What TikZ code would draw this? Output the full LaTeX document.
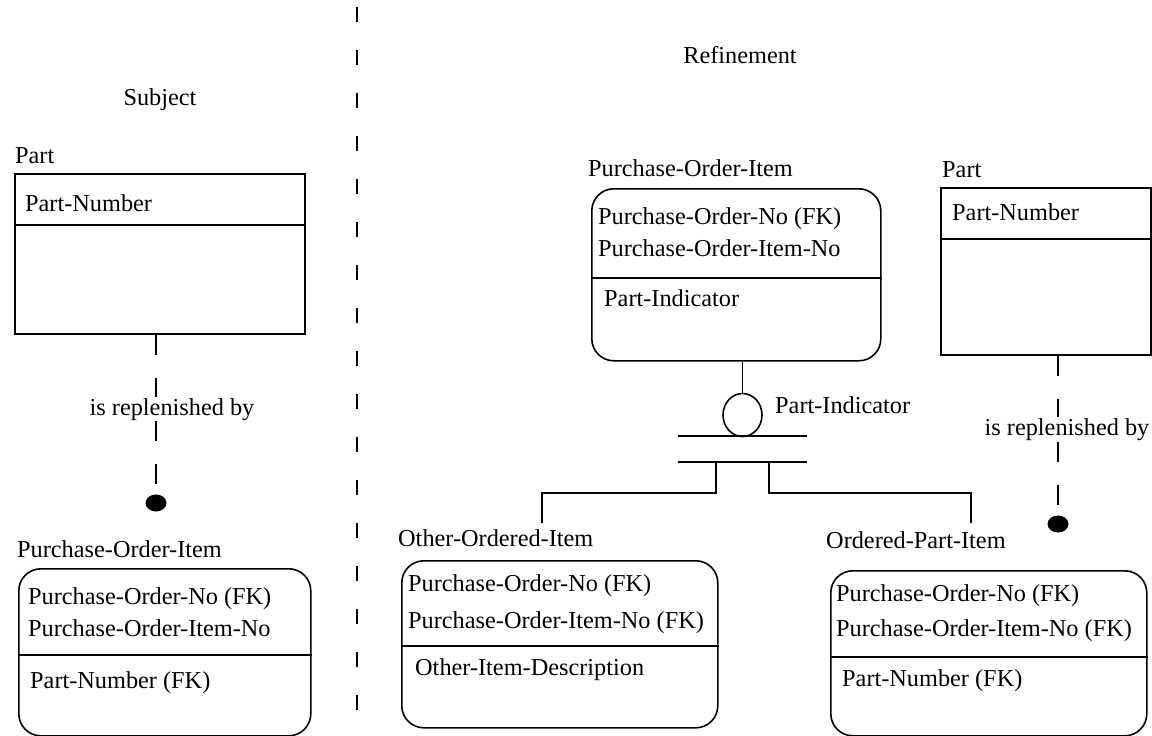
\documentclass[tikz,border=0pt]{standalone}
\usepackage{fontspec}
\setmainfont{Liberation Serif}
\newfontfamily\diagfont{Liberation Serif}
\usetikzlibrary{shapes.geometric}
\begin{document}
\begin{tikzpicture}[x=1pt,y=-1pt,
  every node/.style={font=\diagfont\fontsize{24.3}{30}\selectfont, inner sep=0pt},
  lbl/.style={anchor=base west},
  entbox/.style={draw, line width=1.6pt, anchor=north west, inner sep=0pt},
  depbox/.style={entbox, rounded corners=22pt},
  ln/.style={line width=1.6pt},
  reldash/.style={line width=1.6pt, dash pattern=on 20pt off 23pt},
  divider/.style={line width=1.6pt, dash pattern=on 15pt off 28pt},
  blob/.style={ellipse, fill=black, minimum width=21pt, minimum height=17pt},
  rellabel/.style={anchor=base, fill=white, inner sep=1pt},
]
\useasboundingbox (0,0) rectangle (1152,736);

% headings and the dividing line
\node[anchor=base] (hsubj) at (160,105) {Subject};
\node[anchor=base] (hrefi) at (740,63) {Refinement};
\coordinate (divtop) at (357,7);
\coordinate (divbot) at (357,736);
\draw[divider] (divtop) -- (divbot);

% ---------- Subject: Part and Purchase-Order-Item ----------
\node[lbl] (partLt) at (15,163) {Part};
\node[entbox, minimum width=290pt, minimum height=160pt] (partL) at (14,173) {};
\draw[ln] (partL.west |- 0,225) -- (partL.east |- 0,225);
\node[lbl] (partLa) at (25,211) {Part-Number};

\node[blob] (dotL) at (156,503) {};
\draw[reldash] (partL.south -| dotL) -- (dotL.north);
\node[rellabel] (relL) at (172,415) {is replenished by};

\node[lbl] (poiLt) at (17,557) {Purchase-Order-Item};
\node[depbox, minimum width=292pt, minimum height=167pt] (poiL) at (18,568) {};
\draw[ln] (poiL.west |- 0,655) -- (poiL.east |- 0,655);
\node[lbl] (poiLa) at (28,604) {Purchase-Order-No (FK)};
\node[lbl] (poiLb) at (28,636) {Purchase-Order-Item-No};
\node[lbl] (poiLc) at (30,688) {Part-Number (FK)};

% ---------- Refinement ----------
\node[lbl] (poiRt) at (588,176) {Purchase-Order-Item};
\node[depbox, minimum width=289pt, minimum height=172pt] (poiR) at (591,188) {};
\draw[ln] (poiR.west |- 0,278) -- (poiR.east |- 0,278);
\node[lbl] (poiRa) at (598,224) {Purchase-Order-No (FK)};
\node[lbl] (poiRb) at (598,256) {Purchase-Order-Item-No};
\node[lbl] (poiRc) at (604,306) {Part-Indicator};

% subtype discriminator
\node[draw, ellipse, line width=1.6pt, minimum width=39pt, minimum height=43pt] (disc) at (742.5,415) {};
\draw[ln] (poiR.south -| disc) -- (disc.north);
\node[lbl] (discl) at (775,413) {Part-Indicator};
\coordinate (barA1) at (678,436);
\coordinate (barA2) at (807,436);
\coordinate (barB1) at (678,462);
\coordinate (barB2) at (807,462);
\draw[ln] (barA1) -- (barA2);
\draw[ln] (barB1) -- (barB2);
\coordinate (legL) at (716,462);
\coordinate (legR) at (769,462);
\coordinate (endOO) at (542,523);
\coordinate (endOP) at (971,523);
\draw[ln] (legL) -- (legL |- 0,493) -| (endOO);
\draw[ln] (legR) -- (legR |- 0,493) -| (endOP);

% Part (right)
\node[lbl] (partRt) at (942,177) {Part};
\node[entbox, minimum width=210pt, minimum height=167pt] (partR) at (940,187) {};
\draw[ln] (partR.west |- 0,239) -- (partR.east |- 0,239);
\node[lbl] (partRa) at (952,220) {Part-Number};

\node[blob] (dotR) at (1058,524) {};
\draw[reldash] (partR.south -| dotR) -- (dotR.north);
\node[rellabel] (relR) at (1067,435) {is replenished by};

% Other-Ordered-Item
\node[lbl] (ooit) at (398,546) {Other-Ordered-Item};
\node[depbox, minimum width=316pt, minimum height=167pt] (ooi) at (401,560) {};
\draw[ln] (ooi.west |- 0,646) -- (ooi.east |- 0,646);
\node[lbl] (ooia) at (408,591) {Purchase-Order-No (FK)};
\node[lbl] (ooib) at (408,628) {Purchase-Order-Item-No (FK)};
\node[lbl] (ooic) at (415,675) {Other-Item-Description};

% Ordered-Part-Item
\node[lbl] (opit) at (826,548) {Ordered-Part-Item};
\node[depbox, minimum width=316pt, minimum height=165pt] (opi) at (830,570) {};
\draw[ln] (opi.west |- 0,657) -- (opi.east |- 0,657);
\node[lbl] (opia) at (836,601) {Purchase-Order-No (FK)};
\node[lbl] (opib) at (836,636) {Purchase-Order-Item-No (FK)};
\node[lbl] (opic) at (842,686) {Part-Number (FK)};
\end{tikzpicture}
\end{document}
